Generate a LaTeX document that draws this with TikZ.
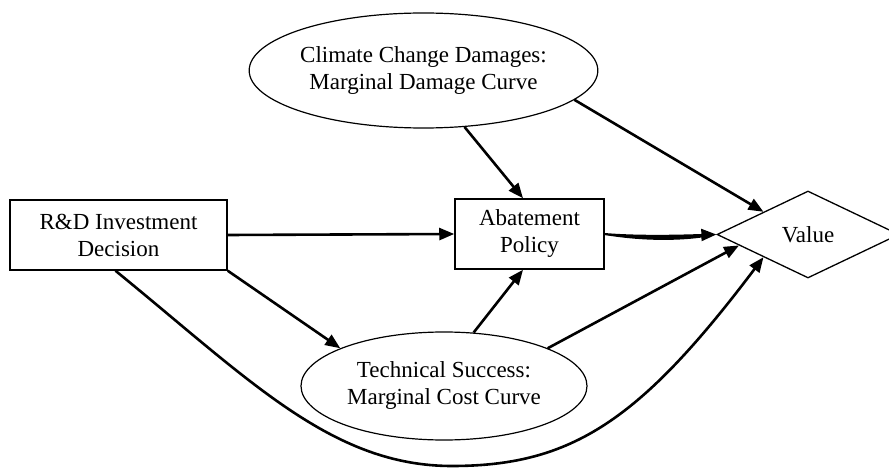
\documentclass[tikz,border=0pt]{standalone}
\usepackage{fontspec}
\setmainfont{Liberation Serif}
\usetikzlibrary{shapes.geometric,arrows.meta}
\begin{document}
\begin{tikzpicture}[x=1pt,y=-1pt,
  txt/.style={align=center,font=\fontsize{23}{27}\selectfont,inner sep=0pt},
  box/.style={txt,draw,line width=1.5pt,rectangle},
  oval/.style={txt,draw,line width=1.2pt,ellipse},
  dia/.style={txt,draw,line width=1.3pt,diamond},
  conn/.style={line width=2.6pt,-{Triangle[length=15pt,width=12pt]}}]
\clip (0,0) rectangle (889,468);
\fill[white] (0,0) rectangle (889,468);
\node[box,minimum width=217pt,minimum height=70pt] (rd) at (118.5,235) {R\&D Investment\\Decision};
\node[box,minimum width=149pt,minimum height=70pt] (abate) at (529.5,234) {Abatement\\Policy};
\node[oval,minimum width=343pt,minimum height=115pt] (climate) at (423.5,70.5) {Climate Change Damages:\\Marginal Damage Curve};
\node[oval,minimum width=286pt,minimum height=108pt] (tech) at (444,386) {Technical Success:\\Marginal Cost Curve};
\node[dia,minimum width=182pt,minimum height=87pt] (value) at (808,234.5) {Value};
\coordinate (bot) at (452,466);
% connectors
\draw[conn] (rd.east) -- (abate.west);
\draw[conn] (rd.south east) -- (tech.160);
\draw[conn] (climate.-54) -- ([xshift=-6.5pt]abate.north);
\draw[conn] (climate.-11) -- (value.153);
\draw[conn] (tech.61) -- ([xshift=-6.5pt]abate.south);
\draw[conn] (tech.20) -- (value.189);
\fill (abate.east) .. controls +(36,3) and +(-30,1) .. ([xshift=-8pt]value.west)
  -- ++(0,2) .. controls +(-30,5) and +(36,6) .. ([yshift=-1pt]abate.east) -- cycle;
\draw[conn,line width=2pt] (abate.east) .. controls +(36,3) and +(-30,1) .. (value.west);
\draw[conn] ([xshift=-3pt]rd.south) .. controls +(135,110) and +(-120,0) .. (bot)
  .. controls +(120,0) and +(-123,163) .. (value.207);
\end{tikzpicture}
\end{document}
